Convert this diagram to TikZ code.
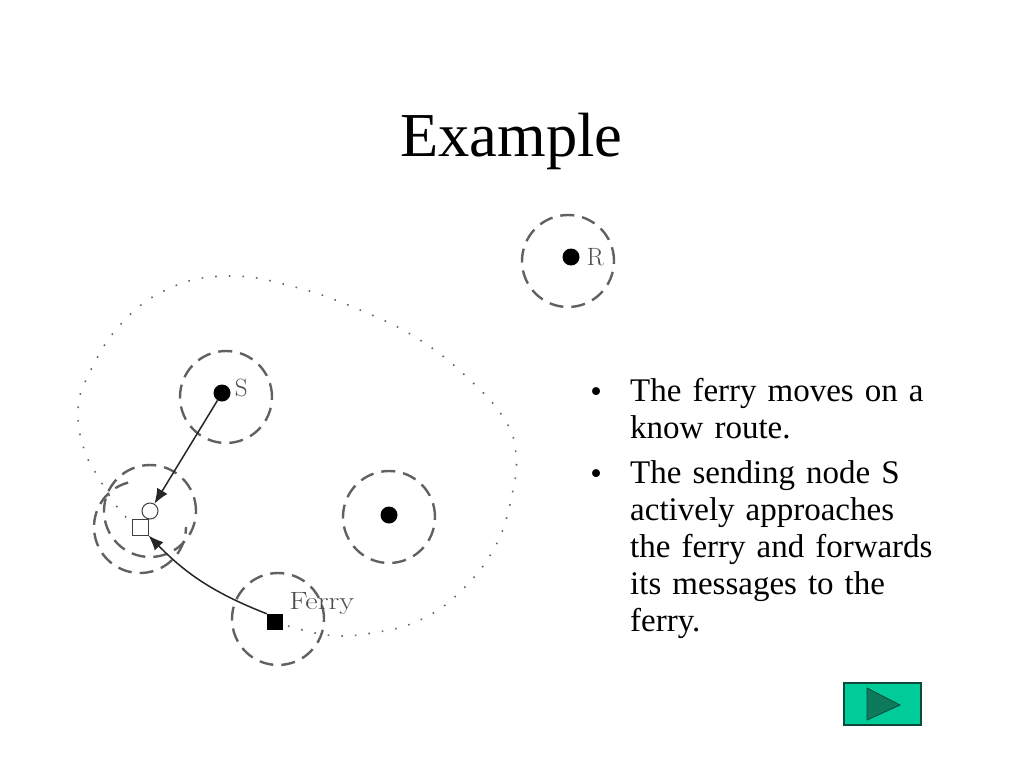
\documentclass[tikz,border=0pt]{standalone}
\usepackage{graphicx}
\usepackage{fontspec}
\usetikzlibrary{shapes,arrows,arrows.meta,positioning}
\newfontfamily\slidefont{Liberation Serif}
\definecolor{btnfill}{HTML}{00CC99}
\definecolor{btndark}{HTML}{0E7A5C}
\definecolor{btnline}{HTML}{0B4A3A}
\tikzstyle{reachline} = [draw=black!62, line width=2.4pt, dash pattern=on 14pt off 8pt]
\tikzstyle{reach} = [circle, reachline, minimum size=92pt, inner sep=0pt]
\tikzstyle{hostdot} = [circle, fill=black, minimum size=17pt, inner sep=0pt]
\tikzstyle{hostopen} = [circle, draw=black!75, fill=white, line width=1pt, minimum size=16pt, inner sep=0pt]
\tikzstyle{ferrybox} = [rectangle, fill=black, minimum size=16pt, inner sep=0pt]
\tikzstyle{ferryopen} = [rectangle, draw=black!75, fill=white, line width=1pt, minimum size=16pt, inner sep=0pt]
\tikzstyle{tag} = [text=black!70, inner sep=0pt, font=\fontsize{25}{25}\selectfont]
\tikzstyle{line} = [draw, black!85, line width=1.5pt, -{Latex[length=15pt,width=12pt]}]
\tikzstyle{route} = [draw, black!60, line width=1.6pt, dash pattern=on 1.6pt off 12pt]
\tikzstyle{bullet} = [anchor=north west, inner sep=0pt, text width=320pt, align=left, font=\slidefont\fontsize{33}{37}\selectfont]
\tikzstyle{bulletdot} = [inner sep=0pt, font=\slidefont\fontsize{33}{37}\selectfont]

\begin{document}
\begin{tikzpicture}[x=1pt, y=-1pt]
	\useasboundingbox (0,0) rectangle (1024,768);
	\node [inner sep=0pt, font=\slidefont\fontsize{62.5}{62.5}\selectfont] (title) at (511.5,141) {Example};
	% ranges
	\node [reach] (reachR) at (568,261) {};
	\node [reach] (reachS) at (226,397) {};
	\node [reach] (reachM) at (389,517) {};
	\node [reach] (reachF) at (278,619) {};
	\node [reach] (reachA) at (150,511) {};
	\node [circle, minimum size=92pt, inner sep=0pt, outer sep=0pt] (reachB) at (140,527) {};
	\draw [reachline] (reachB.105) arc (105:360:46pt);
	% route of the ferry
	\node [ferryopen] (ghost) at (140,527) {};
	\node [ferrybox] (ferry) at (275,622) {};
	\draw [route] plot [smooth, tension=0.7] coordinates {(ferry.center) (327,635) (372,633) (420,620) (462,590) (496,545) (512,495) (516,455) (505,420) (470,380) (420,340) (360,310) (295,287) (230,276) (170,288) (120,325) (86,380) (78,414) (84,449) (97,475) (121,512) (ghost.center)};
	\node [ferryopen] at (ghost) {};
	\node [ferrybox] at (ferry) {};
	% hosts
	\node [hostdot] (hostR) at (571,257) {};
	\node [hostdot] (hostS) at (222,393) {};
	\node [hostdot] (hostM) at (389,515) {};
	\node [hostopen] (moved) at (150,511) {};
	\node [tag, right=7pt of hostR] (tagR) {R};
	\node [tag, right=4pt of hostS, yshift=5pt] (tagS) {S};
	\node [tag, above right=-1pt and 6pt of ferry] (tagF) {\scalebox{1.22}[1]{Ferry}};
	\path [line] (hostS) -> (moved);
	\path [line] (ferry.north west) to [bend left=12] (ghost.south east);
	% text
	\node [bullet] (first) at (630,378) {The ferry moves on a\\know route.};
	\node [bullet] (second) at (630,460) {The sending node S\\actively approaches\\the ferry and forwards\\its messages to the\\ferry.};
	\node [bulletdot, left=28pt of first.north west, anchor=north east, yshift=-9pt] (dotA) {•};
	\node [bulletdot, left=28pt of second.north west, anchor=north east, yshift=-9pt] (dotB) {•};
	% button
	\node [rectangle, draw=btnline, fill=btnfill, line width=1.2pt, minimum width=77pt, minimum height=42pt, inner sep=0pt] (button) at (882.5,704) {};
	\draw [draw=btnline, fill=btndark, line width=0.8pt] (867,688) -- (900,705) -- (867,720) -- cycle;
\end{tikzpicture}
\end{document}
